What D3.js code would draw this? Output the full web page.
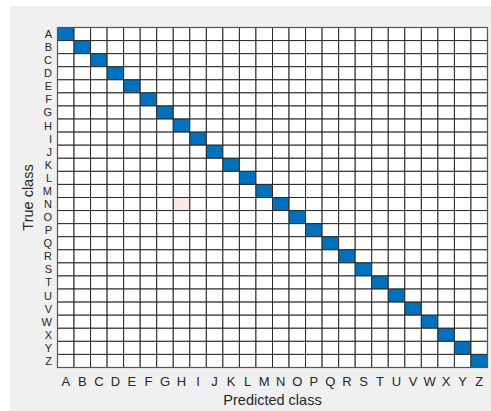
<!DOCTYPE html>
<html><head><meta charset="utf-8">
<script src="https://cdn.jsdelivr.net/npm/d3@7"></script>
<style>
html,body{margin:0;padding:0;background:#fff;}
svg{display:block;font-family:"Liberation Sans",Arial,Helvetica,sans-serif;}
</style></head>
<body>
<svg id="chart" width="491" height="411"></svg>
<script>
const classes = ["A","B","C","D","E","F","G","H","I","J","K","L","M","N","O","P","Q","R","S","T","U","V","W","X","Y","Z"];
const diagonalCounts = [100,100,100,100,100,100,100,100,100,100,100,100,100,99,100,100,100,100,100,100,100,100,100,100,100,100];
const offTrue = ["N"];
const offPred = ["H"];
const offCounts = [1];

const cells = [];
classes.forEach((t,i)=>classes.forEach((p,j)=>{
  let v = 0;
  if (i===j) v = diagonalCounts[i];
  offTrue.forEach((ot,k)=>{ if(ot===t && offPred[k]===p) v = offCounts[k]; });
  cells.push({t,p,v,diag:i===j});
}));

const svg = d3.select("#chart");
svg.append("rect").attr("x",10).attr("y",6).attr("width",481).attr("height",405).attr("fill","#f0f0f0");

const L=57.5, T=27.5, W=430, H=340;
const x = d3.scaleBand().domain(classes).range([L,L+W]);
const y = d3.scaleBand().domain(classes).range([T,T+H]);
const maxOff = 8;
const offColor = v => d3.interpolateRgb("#ffffff","#d95319")(v/maxOff);

svg.append("g").selectAll("rect").data(cells).join("rect")
  .attr("x",d=>x(d.p)).attr("y",d=>y(d.t))
  .attr("width",x.bandwidth()).attr("height",y.bandwidth())
  .attr("fill",d=>d.diag ? "#0072bd" : (d.v>0 ? offColor(d.v) : "#ffffff"))
  .attr("stroke","#2a2a2a").attr("stroke-width",1);

svg.append("rect").attr("x",L).attr("y",T).attr("width",W).attr("height",H)
  .attr("fill","none").attr("stroke","#555555").attr("stroke-width",1.2);

const tc = "#262626";
svg.append("g").selectAll("text").data(classes).join("text")
  .attr("x",d=>x(d)+x.bandwidth()/2).attr("y",386)
  .attr("text-anchor","middle").attr("font-size",13).attr("fill",tc).text(d=>d);
svg.append("g").selectAll("text").data(classes).join("text")
  .attr("x",52).attr("y",d=>y(d)+y.bandwidth()/2).attr("dy","0.36em")
  .attr("text-anchor","end").attr("font-size",11).attr("fill",tc)
  .text(d=>d);

svg.append("text").attr("x",L+W/2).attr("y",405).attr("text-anchor","middle")
  .attr("font-size",14.5).attr("fill",tc).text("Predicted class");
svg.append("text").attr("transform",`translate(33,${T+H/2}) rotate(-90)`).attr("text-anchor","middle")
  .attr("font-size",14.5).attr("fill",tc).text("True class");
</script>
</body></html>
